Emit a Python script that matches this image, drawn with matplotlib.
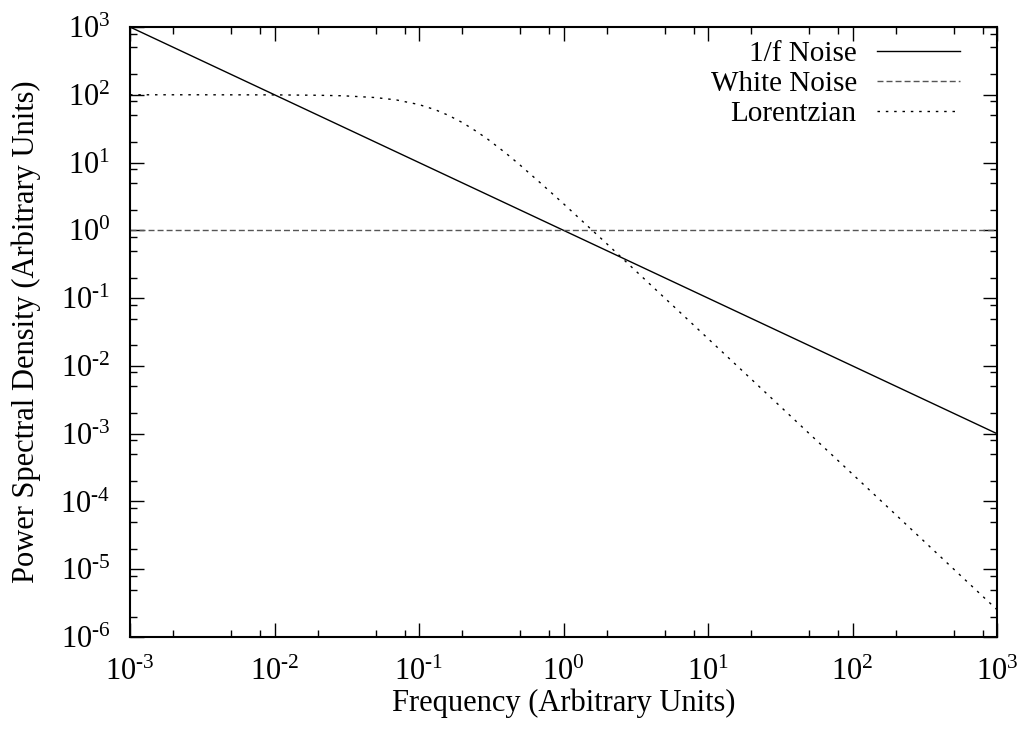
import numpy as np
import matplotlib.pyplot as plt
from matplotlib.ticker import LogLocator, FixedFormatter, NullFormatter

plt.rcParams['font.family'] = ['Liberation Serif', 'DejaVu Serif']
plt.rcParams['mathtext.fontset'] = 'custom'
plt.rcParams['mathtext.rm'] = 'Liberation Serif'
plt.rcParams['mathtext.it'] = 'Liberation Serif:italic'

# spectra
freq_pink = [1e-3, 1e3]
psd_pink = [1e3, 1e-3]

freq_white = [1e-3, 1e3]
psd_white = [1.0, 1.0]

freq_lor = [1e-3, 3e-3, 0.01, 0.02, 0.03, 0.05, 0.07, 0.1, 0.13, 0.16, 0.2, 0.25,
            0.3, 0.4, 0.5, 0.7, 1.0, 1.5, 2.0, 3.0, 5.0, 7.0, 10.0, 20.0, 50.0,
            100.0, 200.0, 500.0, 1000.0]
psd_lor = [100.0, 99.96, 99.6, 98.4, 96.6, 91.0, 83.8, 71.7, 60.0, 49.7, 38.8, 28.8,
           22.0, 13.7, 9.2, 4.9, 2.47, 1.11, 0.63, 0.28, 0.101, 0.0517, 0.0253,
           0.00633, 0.00101, 2.53e-4, 6.33e-5, 1.01e-5, 2.53e-6]

xticks = [1e-3, 1e-2, 1e-1, 1e0, 1e1, 1e2, 1e3]
xlabels = ['-3', '-2', '-1', '0', '1', '2', '3']
yticks = [1e-6, 1e-5, 1e-4, 1e-3, 1e-2, 1e-1, 1e0, 1e1, 1e2, 1e3]
ylabels = ['-6', '-5', '-4', '-3', '-2', '-1', '0', '1', '2', '3']


def pow_label(e):
    return r'$10^{\text{%s}}$' % e


fig = plt.figure(figsize=(10.22, 7.34), dpi=100)
ax = fig.add_axes([130 / 1022, 1 - 637 / 734, 867 / 1022, 610 / 734])

ax.plot(freq_pink, psd_pink, color='black', lw=1.0, label='1/f Noise')
ax.plot(freq_white, psd_white, color='#555555', lw=1.0, dashes=(4.3, 2.2), label='White Noise')
ax.plot(freq_lor, psd_lor, color='black', lw=1.0, dashes=(1.8, 4.2), label='Lorentzian')

ax.set_xscale('log')
ax.set_yscale('log')
ax.set_xlim(1e-3, 1e3)
ax.set_ylim(1e-6, 1e3)

ax.set_xticks(xticks)
ax.xaxis.set_major_formatter(FixedFormatter([pow_label(e) for e in xlabels]))
ax.set_yticks(yticks)
ax.yaxis.set_major_formatter(FixedFormatter([pow_label(e) for e in ylabels]))
ax.xaxis.set_minor_locator(LogLocator(base=10, subs=(2, 5, 8), numticks=20))
ax.yaxis.set_minor_locator(LogLocator(base=10, subs=(2, 5, 8), numticks=20))
ax.xaxis.set_minor_formatter(NullFormatter())
ax.yaxis.set_minor_formatter(NullFormatter())

ax.tick_params(which='both', direction='in', top=True, right=True, width=1.0,
               labelsize=22)
ax.tick_params(which='major', length=10)
ax.tick_params(which='minor', length=5)
ax.tick_params(axis='x', pad=15)
ax.tick_params(axis='y', pad=14)
for s in ax.spines.values():
    s.set_linewidth(1.5)

ax.set_xlabel('Frequency (Arbitrary Units)', fontsize=22, labelpad=1)
ax.set_ylabel('Power Spectral Density (Arbitrary Units)', fontsize=22, labelpad=14)

ax.legend(loc='upper right', bbox_to_anchor=(0.9735, 1.0), frameon=False,
          markerfirst=False, fontsize=21, handlelength=2.85, handletextpad=0.7,
          labelspacing=0.12, borderaxespad=0.0, borderpad=0.47)

fig.savefig('out.png', dpi=100)
